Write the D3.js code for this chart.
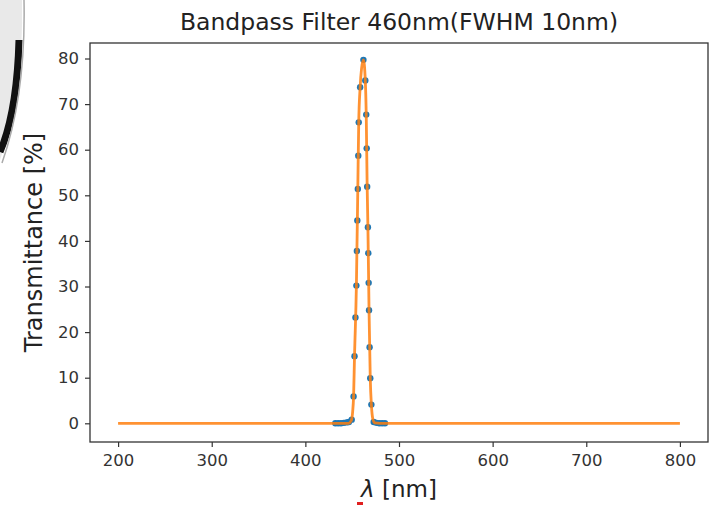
<!DOCTYPE html>
<html>
<head>
<meta charset="utf-8">
<script src="https://cdn.jsdelivr.net/npm/d3@7"></script>
<style>
  body { margin: 0; background: #fff; }
  svg { display: block; font-family: "DejaVu Sans", sans-serif; }
</style>
</head>
<body>
<svg id="chart"></svg>
<script>
// measured samples (blue dots)
const sampleNm = [432, 435, 438, 441, 444, 446.5, 449.5, 451.5, 452.5, 453.5, 454.5, 455, 455.5, 456, 456.5, 457, 458.5, 462,
  464, 465, 465.5, 466, 466.8, 467.2, 467.6, 468, 468.6, 469.3, 470.5, 473, 476, 479, 482, 485];
const sampleT = [0, 0, 0, 0.1, 0.2, 0.3, 0.8, 5.9, 14.7, 23.2, 30.2, 37.8, 44.5, 51.4, 58.7, 66.0, 73.7, 79.7,
  75.2, 67.7, 60.3, 51.9, 43.0, 37.3, 30.8, 24.8, 16.7, 9.9, 4.1, 0.3, 0.1, 0, 0, 0];

// fitted curve (orange line)
const fitNm = [200, 440, 446, 449, 450.5, 451.5, 452.5, 454.5, 456, 457, 458.5, 460, 462, 464, 465, 466, 466.8, 468, 469.3, 470.5, 472, 474, 480, 800];
const fitT = [0, 0, 0, 0.6, 2.5, 5.9, 14.7, 30.2, 51.4, 66.0, 73.7, 77.8, 79.7, 75.2, 67.7, 51.9, 43.0, 24.8, 9.9, 4.1, 1.0, 0.1, 0, 0];

const xTicks = [200, 300, 400, 500, 600, 700, 800];
const yTicks = [0, 10, 20, 30, 40, 50, 60, 70, 80];

const W = 717, H = 505;
const margin = { top: 43, right: 9, bottom: 63, left: 90 };
const iw = W - margin.left - margin.right;
const ih = H - margin.top - margin.bottom;

const svg = d3.select('#chart').attr('width', W).attr('height', H);

// slide edge leftover in the top-left corner
svg.append('path')
  .attr('d', 'M0,0 L22,0 Q24,92 0,160 Z')
  .attr('fill', '#e9e9e9');
svg.append('path')
  .attr('d', 'M19,40 Q17,112 0,152')
  .attr('fill', 'none')
  .attr('stroke', '#111')
  .attr('stroke-width', 7);
svg.append('path')
  .attr('d', 'M24,0 Q26,95 2,163')
  .attr('fill', 'none')
  .attr('stroke', '#aaa')
  .attr('stroke-width', 1.5);

const x = d3.scaleLinear().domain([170, 830]).range([0, iw]);
const y = d3.scaleLinear().domain([-4.1, 83.4]).range([ih, 0]);

const g = svg.append('g').attr('transform', `translate(${margin.left},${margin.top})`);

const line = d3.line()
  .x((d, i) => x(fitNm[i]))
  .y(d => y(d))
  .curve(d3.curveMonotoneX);

g.append('g')
  .selectAll('circle')
  .data(sampleT)
  .join('circle')
  .attr('cx', (d, i) => x(sampleNm[i]))
  .attr('cy', d => y(d))
  .attr('r', 3.2)
  .attr('fill', '#1f77b4');

g.append('path')
  .datum(fitT)
  .attr('d', line)
  .attr('fill', 'none')
  .attr('stroke', '#ff7f0e')
  .attr('stroke-opacity', 0.85)
  .attr('stroke-width', 2.8)
  .attr('stroke-linejoin', 'round');

// frame
g.append('rect')
  .attr('width', iw).attr('height', ih)
  .attr('fill', 'none')
  .attr('stroke', '#333')
  .attr('stroke-width', 1.3);

const xAxis = g.append('g')
  .attr('transform', `translate(0,${ih})`)
  .call(d3.axisBottom(x).tickValues(xTicks).tickSize(5).tickPadding(7));
const yAxis = g.append('g')
  .call(d3.axisLeft(y).tickValues(yTicks).tickSize(5).tickPadding(6));

[xAxis, yAxis].forEach(a => {
  a.select('.domain').remove();
  a.selectAll('line').attr('stroke', '#333').attr('stroke-width', 1.2);
  a.selectAll('text')
    .attr('fill', '#333')
    .style('font-size', '16.5px')
    .style('font-family', '"DejaVu Sans", sans-serif');
});

svg.append('text')
  .attr('x', margin.left + iw / 2)
  .attr('y', 30)
  .attr('text-anchor', 'middle')
  .attr('fill', '#222')
  .style('font-size', '23.5px')
  .text('Bandpass Filter 460nm(FWHM 10nm)');

svg.append('text')
  .attr('transform', `translate(42,${margin.top + ih / 2}) rotate(-90)`)
  .attr('text-anchor', 'middle')
  .attr('fill', '#222')
  .style('font-size', '24px')
  .text('Transmittance [%]');

const xl = svg.append('text')
  .attr('x', margin.left + iw / 2)
  .attr('y', 497)
  .attr('text-anchor', 'middle')
  .attr('fill', '#222')
  .style('font-size', '23px');
xl.append('tspan').style('font-style', 'italic').text('λ');
xl.append('tspan').text(' [nm]');

// little red mark under the lambda
svg.append('rect')
  .attr('x', 357).attr('y', 502)
  .attr('width', 6).attr('height', 3)
  .attr('fill', '#e02020');
</script>
</body>
</html>
